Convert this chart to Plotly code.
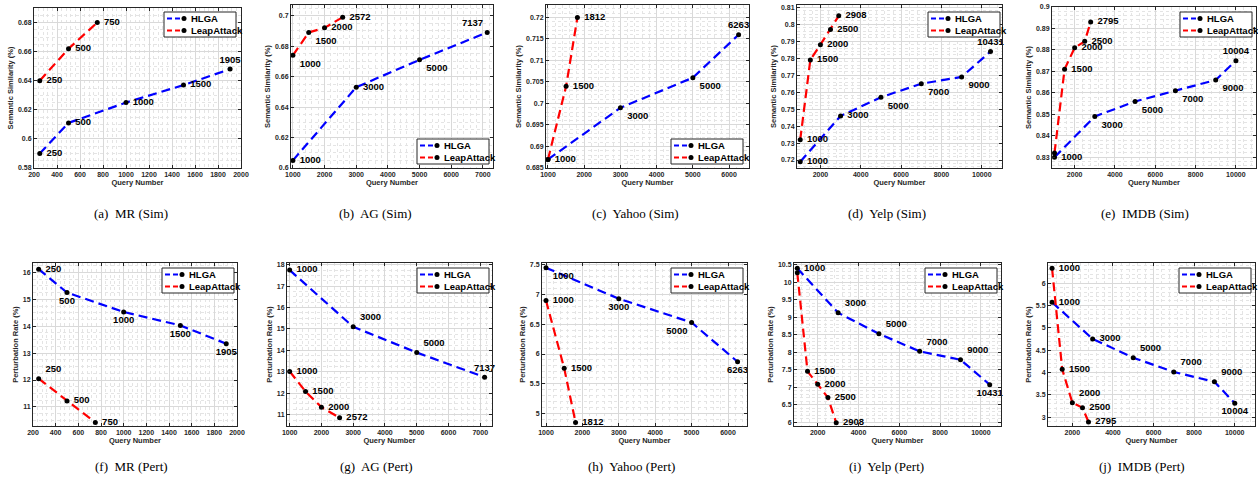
import plotly.graph_objects as go

W, H = 1258, 485

# ---------------- data ----------------
mr_sim_hlga_x = [250, 500, 1000, 1500, 1905]
mr_sim_hlga_y = [0.590, 0.611, 0.625, 0.637, 0.648]
mr_sim_leap_x = [250, 500, 750]
mr_sim_leap_y = [0.640, 0.662, 0.680]

ag_sim_hlga_x = [1000, 3000, 5000, 7137]
ag_sim_hlga_y = [0.605, 0.653, 0.671, 0.689]
ag_sim_leap_x = [1000, 1500, 2000, 2572]
ag_sim_leap_y = [0.674, 0.689, 0.692, 0.699]

yahoo_sim_hlga_x = [1000, 3000, 5000, 6263]
yahoo_sim_hlga_y = [0.687, 0.699, 0.706, 0.716]
yahoo_sim_leap_x = [1000, 1500, 1812]
yahoo_sim_leap_y = [0.687, 0.704, 0.720]

yelp_sim_hlga_x = [1000, 3000, 5000, 7000, 9000, 10431]
yelp_sim_hlga_y = [0.719, 0.746, 0.757, 0.765, 0.769, 0.784]
yelp_sim_leap_x = [1000, 1500, 2000, 2500, 2908]
yelp_sim_leap_y = [0.732, 0.779, 0.788, 0.797, 0.805]

imdb_sim_hlga_x = [1000, 3000, 5000, 7000, 9000, 10004]
imdb_sim_hlga_y = [0.830, 0.849, 0.856, 0.861, 0.866, 0.875]
imdb_sim_leap_x = [1000, 1500, 2000, 2500, 2795]
imdb_sim_leap_y = [0.832, 0.871, 0.881, 0.884, 0.893]

mr_pert_hlga_x = [250, 500, 1000, 1500, 1905]
mr_pert_hlga_y = [16.12, 15.25, 14.53, 14.03, 13.35]
mr_pert_leap_x = [250, 500, 750]
mr_pert_leap_y = [12.05, 11.22, 10.42]

ag_pert_hlga_x = [1000, 3000, 5000, 7137]
ag_pert_hlga_y = [17.75, 15.10, 13.90, 12.75]
ag_pert_leap_x = [1000, 1500, 2000, 2572]
ag_pert_leap_y = [13.02, 12.08, 11.35, 10.85]

yahoo_pert_hlga_x = [1000, 3000, 5000, 6263]
yahoo_pert_hlga_y = [7.45, 6.93, 6.53, 5.87]
yahoo_pert_leap_x = [1000, 1500, 1812]
yahoo_pert_leap_y = [6.90, 5.76, 4.85]

yelp_pert_hlga_x = [1000, 3000, 5000, 7000, 9000, 10431]
yelp_pert_hlga_y = [10.40, 9.13, 8.53, 8.03, 7.79, 7.08]
yelp_pert_leap_x = [1000, 1500, 2000, 2500, 2908]
yelp_pert_leap_y = [10.27, 7.46, 7.09, 6.71, 5.99]

imdb_pert_hlga_x = [1000, 3000, 5000, 7000, 9000, 10004]
imdb_pert_hlga_y = [5.57, 4.75, 4.33, 4.01, 3.79, 3.31]
imdb_pert_leap_x = [1000, 1500, 2000, 2500, 2795]
imdb_pert_leap_y = [6.33, 4.07, 3.32, 3.21, 2.89]

series_names = ["HLGA", "LeapAttack"]
captions = ["(a)  MR (Sim)", "(b)  AG (Sim)", "(c)  Yahoo (Sim)", "(d)  Yelp (Sim)", "(e)  IMDB (Sim)",
            "(f)  MR (Pert)", "(g)  AG (Pert)", "(h)  Yahoo (Pert)", "(i)  Yelp (Pert)", "(j)  IMDB (Pert)"]
y_titles = ["Semantic Similarity (%)"] * 5 + ["Perturbation Rate (%)"] * 5
x_title = "Query Number"

# ---------------- styles / layout ----------------
MR, BR, TR, TL, BC, TC, BL = ("middle right", "bottom right", "top right", "top left",
                              "bottom center", "top center", "bottom left")
NO = None  # label hidden (coincides with the other series' label)
panels = [
    dict(data=(mr_sim_hlga_x, mr_sim_hlga_y, mr_sim_leap_x, mr_sim_leap_y),
         box=(34, 241, 8, 168), xr=[200, 2000], yr=[0.58, 0.69], xd=200, x0=200, yd=0.02, y0=0.58,
         pos_h=[MR, MR, MR, MR, TC], pos_l=[MR, MR, MR], leg=("tr", 236, 12)),
    dict(data=(ag_sim_hlga_x, ag_sim_hlga_y, ag_sim_leap_x, ag_sim_leap_y),
         box=(291, 493, 5, 168), xr=[940, 7320], yr=[0.6, 0.707], xd=1000, x0=1000, yd=0.02, y0=0.6,
         pos_h=[MR, MR, BR, TL], pos_l=[BR, BR, MR, MR], leg=("br", 489, 164)),
    dict(data=(yahoo_sim_hlga_x, yahoo_sim_hlga_y, yahoo_sim_leap_x, yahoo_sim_leap_y),
         box=(546, 749, 5, 168), xr=[945, 6550], yr=[0.685, 0.7229], xd=1000, x0=1000, yd=0.005, y0=0.685,
         pos_h=[MR, BR, BR, TC], pos_l=[NO, MR, MR], leg=("br", 743, 164)),
    dict(data=(yelp_sim_hlga_x, yelp_sim_hlga_y, yelp_sim_leap_x, yelp_sim_leap_y),
         box=(797, 1002, 5, 168), xr=[840, 11000], yr=[0.7153, 0.8114], xd=2000, x0=2000, yd=0.01, y0=0.72,
         pos_h=[MR, MR, BR, BR, BR, TC], pos_l=[MR, MR, MR, MR, MR], leg=("tr", 1000, 12)),
    dict(data=(imdb_sim_hlga_x, imdb_sim_hlga_y, imdb_sim_leap_x, imdb_sim_leap_y),
         box=(1052, 1256, 7, 168), xr=[876, 11000], yr=[0.825, 0.9], xd=2000, x0=2000, yd=0.01, y0=0.83,
         pos_h=[MR, BR, BR, BR, BR, TC], pos_l=[NO, MR, MR, MR, MR], leg=("tr", 1252, 12)),
    dict(data=(mr_pert_hlga_x, mr_pert_hlga_y, mr_pert_leap_x, mr_pert_leap_y),
         box=(33, 237, 263, 426), xr=[200, 2000], yr=[10.29, 16.35], xd=200, x0=200, yd=1, y0=11,
         pos_h=[MR, BC, BC, BC, BC], pos_l=[TR, MR, MR], leg=("tr", 234, 268)),
    dict(data=(ag_pert_hlga_x, ag_pert_hlga_y, ag_pert_leap_x, ag_pert_leap_y),
         box=(287, 492, 263, 426), xr=[916, 7370], yr=[10.47, 18.08], xd=1000, x0=1000, yd=1, y0=11,
         pos_h=[MR, TR, TR, TC], pos_l=[MR, MR, MR, MR], leg=("tr", 489, 268)),
    dict(data=(yahoo_pert_hlga_x, yahoo_pert_hlga_y, yahoo_pert_leap_x, yahoo_pert_leap_y),
         box=(542, 747, 263, 426), xr=[890, 6522], yr=[4.79, 7.53], xd=1000, x0=1000, yd=0.5, y0=5,
         pos_h=[BR, BC, BL, BC], pos_l=[MR, MR, MR], leg=("tr", 743, 268)),
    dict(data=(yelp_pert_hlga_x, yelp_pert_hlga_y, yelp_pert_leap_x, yelp_pert_leap_y),
         box=(794, 1001, 263, 426), xr=[838, 10985], yr=[5.9, 10.55], xd=2000, x0=2000, yd=0.5, y0=6,
         pos_h=[MR, TR, TR, TR, TR, BC], pos_l=[NO, MR, MR, MR, MR], leg=("tr", 997, 268)),
    dict(data=(imdb_pert_hlga_x, imdb_pert_hlga_y, imdb_pert_leap_x, imdb_pert_leap_y),
         box=(1048, 1255, 263, 426), xr=[800, 11000], yr=[2.8, 6.45], xd=2000, x0=2000, yd=0.5, y0=3,
         pos_h=[MR, MR, TR, TR, TR, BC], pos_l=[MR, MR, TR, MR, MR], leg=("tr", 1251, 268)),
]
caption_pos = [(131, 213), (375, 213), (635, 213), (887, 213), (1145, 213),
               (131, 466), (376, 466), (632, 466), (886, 466), (1142, 466)]

COLORS = ["#0000ff", "#ff0000"]
AX = "#262626"
GRID = "#d9d9d9"
MINOR = "#e4e4e4"
FONT = "Liberation Sans"
NBSP = "\u00a0"

fig = go.Figure()
shapes, annotations = [], []

def px_x(v):
    return v / W

def px_y(v):
    return 1 - v / H

for i, p in enumerate(panels):
    n = "" if i == 0 else str(i + 1)
    xa, ya = "x" + n, "y" + n
    hx, hy, lx, ly = p["data"]
    for k, (xs, ys, pos) in enumerate([(hx, hy, p["pos_h"]), (lx, ly, p["pos_l"])]):
        labels = []
        for v, q in zip(xs, pos):
            if q is None:
                labels.append("")
            elif q.endswith("right"):
                labels.append(NBSP + str(v))
            else:
                labels.append(str(v))
        tpos = [(MR if q is None else q) for q in pos]
        fig.add_trace(go.Scatter(
            x=xs, y=ys, mode="lines+markers+text", name=series_names[k],
            text=labels, textposition=tpos,
            textfont=dict(family=FONT, size=9.5, color="black", weight="bold"),
            line=dict(color=COLORS[k], width=2.2, dash="9px,5px"),
            marker=dict(color="black", size=5),
            xaxis=xa, yaxis=ya, showlegend=False, cliponaxis=False))
    l, r, t, b = p["box"]
    minor_x = p["xd"] / 5
    minor_y = p["yd"] / 4 if p["yd"] in (0.02, 1) else p["yd"] / 5
    common = dict(showline=True, mirror="ticks", linecolor=AX, linewidth=1,
                  ticks="inside", ticklen=3, tickcolor=AX,
                  tickfont=dict(family=FONT, size=7, color=AX, weight="bold"),
                  showgrid=True, gridcolor=GRID, gridwidth=1, zeroline=False,
                  automargin=False)
    fig.layout["xaxis" + n] = dict(
        domain=[px_x(l), px_x(r)], anchor=ya, range=p["xr"],
        tick0=p["x0"], dtick=p["xd"], tickformat="d",
        title=dict(text=x_title, font=dict(family=FONT, size=7.5, color=AX, weight="bold"), standoff=2),
        minor=dict(dtick=minor_x, tick0=p["x0"], showgrid=True, gridcolor=MINOR, griddash="dot", ticks=""),
        **common)
    fig.layout["yaxis" + n] = dict(
        domain=[px_y(b), px_y(t)], anchor=xa, range=p["yr"],
        tick0=p["y0"], dtick=p["yd"],
        title=dict(text=y_titles[i], font=dict(family=FONT, size=7.5, color=AX, weight="bold"), standoff=3),
        minor=dict(dtick=minor_y, tick0=p["y0"], showgrid=True, gridcolor=MINOR, griddash="dot", ticks=""),
        **common)

    # legend box (drawn manually, MATLAB-style compact)
    corner, ex, ey = p["leg"]
    lw, lh = 72, 25
    if corner == "tr":
        bx0, by0 = ex - lw, ey
    else:
        bx0, by0 = ex - lw, ey - lh
    shapes.append(dict(type="rect", xref="paper", yref="paper",
                       x0=px_x(bx0), x1=px_x(bx0 + lw), y0=px_y(by0 + lh), y1=px_y(by0),
                       line=dict(color="#262626", width=1), fillcolor="white", layer="above"))
    for k in range(2):
        yy = by0 + 6.5 + k * 12
        shapes.append(dict(type="line", xref="paper", yref="paper",
                           x0=px_x(bx0 + 3), x1=px_x(bx0 + 20), y0=px_y(yy), y1=px_y(yy),
                           line=dict(color=COLORS[k], width=2.2, dash="5px,3px"), layer="above"))
        shapes.append(dict(type="circle", xref="paper", yref="paper",
                           x0=px_x(bx0 + 17.5), x1=px_x(bx0 + 22.5), y0=px_y(yy + 2.5), y1=px_y(yy - 2.5),
                           line=dict(color="black", width=0), fillcolor="black", layer="above"))
        annotations.append(dict(text=series_names[k], xref="paper", yref="paper",
                                x=px_x(bx0 + 25), y=px_y(yy), xanchor="left", yanchor="middle",
                                showarrow=False,
                                font=dict(family=FONT, size=9.5, color="black", weight="bold")))

for i, (cx, cy) in enumerate(caption_pos):
    annotations.append(dict(text=captions[i], xref="paper", yref="paper", x=px_x(cx), y=px_y(cy),
                            xanchor="center", yanchor="middle", showarrow=False,
                            font=dict(family="Liberation Serif", size=13, color="black")))

fig.update_layout(width=W, height=H, margin=dict(l=0, r=0, t=0, b=0),
                  paper_bgcolor="white", plot_bgcolor="white",
                  shapes=shapes, annotations=annotations, showlegend=False)

fig.write_html("out.html", config={"displayModeBar": False},
               post_script="document.body.style.margin='0px';")
